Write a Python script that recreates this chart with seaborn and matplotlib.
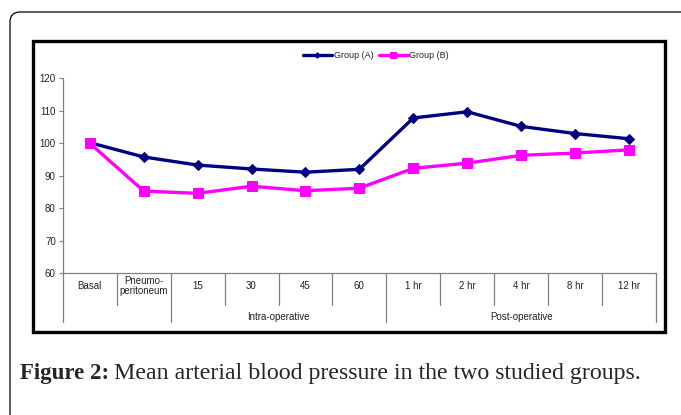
import matplotlib
matplotlib.use("Agg")
import matplotlib.pyplot as plt
from matplotlib.patches import FancyBboxPatch, Rectangle
import seaborn as sns
import numpy as np

categories = ["Basal", "Pneumo-\nperitoneum", "15", "30", "45", "60",
              "1 hr", "2 hr", "4 hr", "8 hr", "12 hr"]
group_a = [100.2, 95.8, 93.3, 92.1, 91.1, 92.0, 107.8, 109.7, 105.2, 103.0, 101.4]
group_b = [100.0, 85.3, 84.6, 86.8, 85.4, 86.2, 92.3, 93.9, 96.3, 97.0, 98.0]
phases = [("Intra-operative", 2, 5), ("Post-operative", 6, 10)]
y_ticks = [60, 70, 80, 90, 100, 110, 120]

sns.set_style("white")
plt.rcParams["font.family"] = ["Liberation Sans", "DejaVu Sans"]

fig = plt.figure(figsize=(6.81, 4.15), dpi=100)
ax = fig.add_axes([62.8 / 681, 141.7 / 415, (656 - 62.8) / 681, 195 / 415])

x = np.arange(len(categories))
sns.lineplot(x=x, y=group_a, ax=ax, color="#000080", lw=2.4, marker="D",
             markersize=5.5, markeredgecolor="#000080", label="Group (A)")
sns.lineplot(x=x, y=group_b, ax=ax, color="#FF00FF", lw=2.4, marker="s",
             markersize=7.5, markeredgecolor="#FF00FF", label="Group (B)")

ax.set_xlim(-0.5, len(categories) - 0.5)
ax.set_ylim(60, 120)
ax.set_yticks(y_ticks)
ax.tick_params(axis="y", labelsize=7, length=3, width=0.8, color="#808080",
               left=True, pad=2, labelcolor="#222222")
ax.set_xticks([])
for s in ["top", "right"]:
    ax.spines[s].set_visible(False)
for s in ["left", "bottom"]:
    ax.spines[s].set_color("#808080")
    ax.spines[s].set_linewidth(0.9)

# category labels and separators below the axis
trans = ax.get_xaxis_transform()
row1, row2 = -0.163, -0.25
major = {-0.5, 1.5, 5.5, len(categories) - 0.5}
for b in np.arange(-0.5, len(categories), 1.0):
    bottom = row2 if b in major else row1
    ax.plot([b, b], [0, bottom], transform=trans, color="#808080", lw=0.9,
            clip_on=False)
for i, c in enumerate(categories):
    ax.text(i, -0.065, c, transform=trans, ha="center", va="center",
            fontsize=7, linespacing=1.0, color="#222222")
for name, a, b in phases:
    ax.text((a + b) / 2, -0.225, name, transform=trans, ha="center",
            va="center", fontsize=7, color="#222222")

ax.legend(loc="center", bbox_to_anchor=(0.528, 1.115), ncol=2, frameon=False,
          fontsize=6.5, handlelength=3.2, handletextpad=0.2, columnspacing=0.6,
          markerscale=0.5)

# frames
fig.patches.append(FancyBboxPatch((0.10, -0.6), 8.0, 4.63,
                                  boxstyle="round,pad=0,rounding_size=0.1",
                                  transform=fig.dpi_scale_trans, fill=False,
                                  lw=0.9, ec="black"))
fig.patches.append(Rectangle((0.325, 0.835), 6.32, 2.905,
                             transform=fig.dpi_scale_trans, fill=False,
                             lw=2.4, ec="black"))

# caption: bold label followed by plain text
cap_y = 1 - 373 / 415
lab = fig.text(20 / 681, cap_y, "Figure 2:", fontsize=16.5, fontweight="bold",
               family="Liberation Serif", va="center", ha="left")
fig.canvas.draw()
ext = lab.get_window_extent(renderer=fig.canvas.get_renderer())
fig.text((ext.x1 + 5) / 681, cap_y,
         "Mean arterial blood pressure in the two studied groups.",
         fontsize=17.2, family="Liberation Serif", va="center", ha="left")

fig.savefig("out.png", dpi=100)
